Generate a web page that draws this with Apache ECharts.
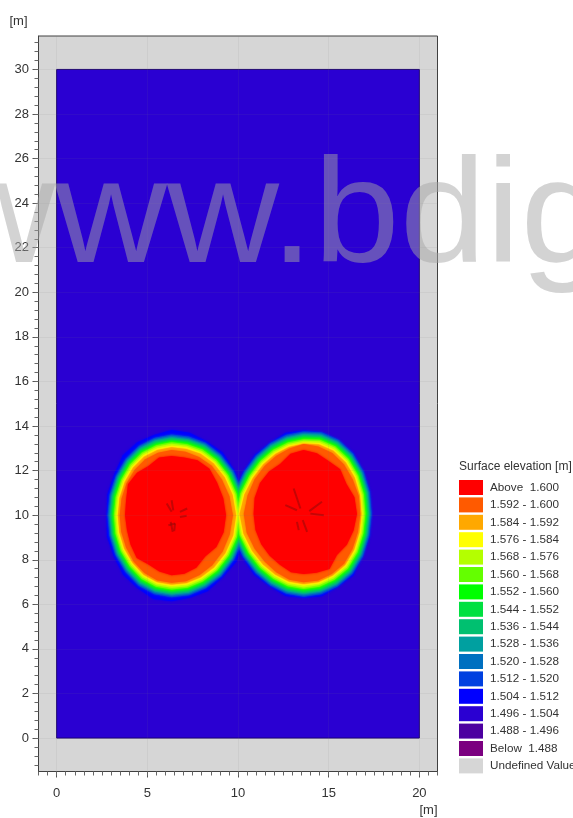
<!DOCTYPE html>
<html><head><meta charset="utf-8">
<style>html,body{margin:0;padding:0;background:#fff;overflow:hidden}#c{width:573px;height:818px;filter:blur(0.55px)}</style>
<script src="https://cdn.jsdelivr.net/npm/echarts@6/dist/echarts.min.js"></script>
</head><body><div id="c"></div>
<script>
// Legend classes, top to bottom
const legendNames = ['Above  1.600','1.592 - 1.600','1.584 - 1.592','1.576 - 1.584','1.568 - 1.576','1.560 - 1.568','1.552 - 1.560','1.544 - 1.552','1.536 - 1.544','1.528 - 1.536','1.520 - 1.528','1.512 - 1.520','1.504 - 1.512','1.496 - 1.504','1.488 - 1.496','Below  1.488','Undefined Value'];
const legendColors = ['#ff0000','#ff5a00','#ffa800','#ffff00','#b4ff00','#64ff00','#00ff00','#00e040','#00c070','#00a0a0','#0070c0','#0040e0','#0000ff','#2a00d2','#4c00a0','#7b0080','#d6d6d6'];
const xLabels = [0,5,10,15,20];
const yLabels = [0,2,4,6,8,10,12,14,16,18,20,22,24,26,28,30];
const domain = [[0,0],[20,30]];
// Hump centres [x, y] in metres
const centres = [[6.34,10.0],[13.62,10.05]];
// Contour radii in metres, read every 15 degrees counter-clockwise from east
const yellowLeft = [3.62,3.55,3.45,3.35,3.25,3.15,3.12,3.10,3.10,3.08,3.05,3.04,3.03,3.05,3.08,3.10,3.15,3.17,3.18,3.22,3.28,3.38,3.48,3.58];
const yellowRight = [3.25,3.28,3.32,3.35,3.35,3.30,3.21,3.18,3.18,3.22,3.30,3.45,3.60,3.50,3.35,3.25,3.20,3.20,3.21,3.22,3.25,3.30,3.28,3.25];
const orangeLeft = [3.38,3.30,3.20,3.13,3.02,2.95,2.93,2.90,2.90,2.88,2.87,2.86,2.86,2.88,2.90,2.95,3.00,3.03,3.03,3.07,3.10,3.17,3.25,3.32];
const orangeRight = [3.12,3.15,3.12,3.15,3.16,3.14,3.14,3.05,3.02,3.05,3.12,3.20,3.30,3.25,3.12,3.03,3.02,3.05,3.06,3.08,3.10,3.15,3.12,3.10];
const redLeft = [3.00,2.95,2.90,2.95,2.85,2.68,2.66,2.68,2.55,2.70,2.78,2.60,2.57,2.55,2.62,2.72,2.55,2.62,2.69,2.72,2.72,2.62,2.85,2.97];
const redRight = [2.94,2.90,2.72,2.85,2.75,2.82,2.88,2.80,2.60,2.70,2.78,2.80,2.76,2.75,2.70,2.65,2.62,2.70,2.69,2.72,2.85,2.60,2.75,2.85];
// Outer blue edge, metres beyond the yellow contour (it is lumpier than the inner bands)
const outerLeft = [0.45,0.50,0.55,0.62,0.58,0.68,0.70,0.62,0.68,0.72,0.60,0.62,0.55,0.64,0.60,0.68,0.62,0.72,0.68,0.62,0.66,0.58,0.66,0.52];
const outerRight = [0.44,0.50,0.46,0.52,0.46,0.50,0.54,0.60,0.52,0.56,0.52,0.50,0.45,0.50,0.54,0.60,0.54,0.60,0.54,0.60,0.52,0.58,0.46,0.52];
// How far each class edge lies outside the yellow contour, metres (1.512 class first)
const bandNames = ['1.512 - 1.520','1.520 - 1.528','1.528 - 1.536','1.536 - 1.544','1.544 - 1.552','1.552 - 1.560','1.560 - 1.568','1.568 - 1.576','1.576 - 1.584','1.584 - 1.592'];
const bandOffsets = [0.50,0.44,0.38,0.33,0.27,0.21,0.15,0.08,0,-0.07];
// Dark mesh strokes near the hump centres [x1,y1,x2,y2]
const meshStrokes = [[6.07,10.52,6.34,10.15],[6.34,10.67,6.43,10.22],[6.80,10.15,7.20,10.30],[6.80,9.92,7.17,9.97],[6.16,9.55,6.53,9.63],[6.29,9.70,6.40,9.25],[6.53,9.63,6.48,9.28],[13.07,11.2,13.44,10.30],[12.61,10.45,13.25,10.22],[14.63,10.60,13.93,10.18],[13.99,10.07,14.73,10.0],[13.25,9.70,13.35,9.33],[13.57,9.78,13.81,9.25]];

const font = 'Liberation Sans';
const colorOf = n => legendColors[legendNames.indexOf(n)];
const xMinor = []; for (let i = -2; i <= 42; i++) xMinor.push(i * 0.5);
const yMinor = []; for (let i = -3; i <= 78; i++) yMinor.push(i * 0.4);

function ring(api, centre, radii, extra, offset, color) {
  const pts = radii.map((r, i) => {
    const a = i * 15 * Math.PI / 180;
    const R = r + offset + (extra ? extra[i] : 0);
    return api.coord([centre[0] + R * Math.cos(a), centre[1] + R * Math.sin(a)]);
  });
  return { type: 'polygon', shape: { points: pts }, style: { fill: color, shadowBlur: 2.5, shadowColor: color } };
}
function ringSeries(name, radiiPair, offset, extraPair) {
  const color = colorOf(name);
  return {
    type: 'custom', name, coordinateSystem: 'cartesian2d', clip: true, silent: true, z: 2,
    itemStyle: { color }, encode: { x: 0, y: 1 },
    data: [[centres[0][0], centres[0][1], 0], [centres[1][0], centres[1][1], 1]],
    renderItem: (p, api) => {
      const k = api.value(2);
      return ring(api, centres[k], radiiPair[k], extraPair ? extraPair[k] : null, offset, color);
    }
  };
}
function emptySeries(name) {
  return { type: 'custom', name, coordinateSystem: 'cartesian2d', silent: true, itemStyle: { color: colorOf(name) }, data: [], renderItem: () => null };
}
const series = [
  { type: 'custom', name: '1.496 - 1.504', coordinateSystem: 'cartesian2d', silent: true, z: 1,
    itemStyle: { color: colorOf('1.496 - 1.504') }, encode: { x: [0, 2], y: [1, 3] },
    data: [[domain[0][0], domain[0][1], domain[1][0], domain[1][1]]],
    renderItem: (p, api) => {
      const a = api.coord([api.value(0), api.value(1)]), b = api.coord([api.value(2), api.value(3)]);
      return { type: 'rect', shape: { x: a[0], y: b[1], width: b[0] - a[0], height: a[1] - b[1] },
        style: { fill: colorOf('1.496 - 1.504'), stroke: '#1a0070', lineWidth: 1 } };
    } }
];
series.push(ringSeries('1.504 - 1.512', [yellowLeft, yellowRight], 0, [outerLeft, outerRight]));
bandNames.forEach((n, i) => series.push(ringSeries(n, [yellowLeft, yellowRight], bandOffsets[i])));
series.push(ringSeries('1.592 - 1.600', [orangeLeft, orangeRight], 0));
series.push(ringSeries('Above  1.600', [redLeft, redRight], 0));
series.push({ type: 'custom', name: 'mesh', coordinateSystem: 'cartesian2d', silent: true, z: 3, encode: { x: [0, 2], y: [1, 3] },
  data: meshStrokes,
  renderItem: (p, api) => {
    const a = api.coord([api.value(0), api.value(1)]), b = api.coord([api.value(2), api.value(3)]);
    return { type: 'line', shape: { x1: a[0], y1: a[1], x2: b[0], y2: b[1] }, style: { stroke: '#8a0a0a', lineWidth: 2, opacity: 0.5 } };
  } });
['1.488 - 1.496', 'Below  1.488', 'Undefined Value'].forEach(n => series.push(emptySeries(n)));

const chart = echarts.init(document.getElementById('c'), null, { renderer: 'canvas', width: 573, height: 818 });
chart.setOption({
  animation: false,
  backgroundColor: '#ffffff',
  grid: { left: 38.5, top: 36, width: 399, height: 735.5, outerBoundsMode: 'none', containLabel: false, show: true, backgroundColor: '#d6d6d6', borderColor: '#404040', borderWidth: 1 },
  title: { text: 'Surface elevation [m]', left: 459, top: 461, padding: 0, textStyle: { fontFamily: font, fontSize: 12, fontWeight: 'normal', color: '#333' } },
  legend: { orient: 'vertical', left: 459, top: 480, width: 114, height: 320, padding: 0, itemWidth: 24, itemHeight: 15, itemGap: 2.4, icon: 'rect', selectedMode: false,
    data: legendNames, textStyle: { fontFamily: font, fontSize: 11.7, color: '#333', padding: [0, 0, 0, 2] } },
  xAxis: [
    { type: 'value', min: -1, max: 21, position: 'bottom', z: 5, name: '[m]', nameLocation: 'end', nameGap: 0,
      nameTextStyle: { fontFamily: font, fontSize: 13, color: '#333', align: 'right', verticalAlign: 'top', padding: [32, 0, 0, 0] },
      axisLine: { show: true, onZero: false, lineStyle: { color: '#404040' } },
      axisTick: { show: true, length: 6, customValues: xLabels, lineStyle: { color: '#555' } },
      axisLabel: { customValues: xLabels, margin: 15, fontFamily: font, fontSize: 13, color: '#333' },
      splitLine: { show: true, lineStyle: { color: 'rgba(120,120,120,0.09)' } } },
    { type: 'value', min: -1, max: 21, position: 'bottom', z: 5,
      axisLine: { show: false, onZero: false }, axisLabel: { show: false }, splitLine: { show: false },
      axisTick: { show: true, length: 4, customValues: xMinor, lineStyle: { color: '#666' } } }
  ],
  yAxis: [
    { type: 'value', min: -1.5, max: 31.5, position: 'left', z: 5, name: '[m]', nameLocation: 'end', nameGap: 0,
      nameTextStyle: { fontFamily: font, fontSize: 13, color: '#333', align: 'right', verticalAlign: 'bottom', padding: [0, 11, 8, 0] },
      axisLine: { show: true, onZero: false, lineStyle: { color: '#404040' } },
      axisTick: { show: true, length: 6, customValues: yLabels, lineStyle: { color: '#555' } },
      axisLabel: { customValues: yLabels, margin: 9.5, padding: [2, 0, 0, 0], fontFamily: font, fontSize: 13, color: '#333' },
      splitLine: { show: true, lineStyle: { color: 'rgba(120,120,120,0.09)' } } },
    { type: 'value', min: -1.5, max: 31.5, position: 'left', z: 5,
      axisLine: { show: false, onZero: false }, axisLabel: { show: false }, splitLine: { show: false },
      axisTick: { show: true, length: 4, customValues: yMinor, lineStyle: { color: '#666' } } }
  ],
  graphic: [{ type: 'text', x: -57, y: 295, scaleX: 1.048, z: 100, silent: true,
    style: { text: 'www.bdig', font: '148px "Liberation Sans"', fill: 'rgba(165,165,165,0.49)', align: 'left', verticalAlign: 'bottom' } }],
  series
});
</script></body></html>
